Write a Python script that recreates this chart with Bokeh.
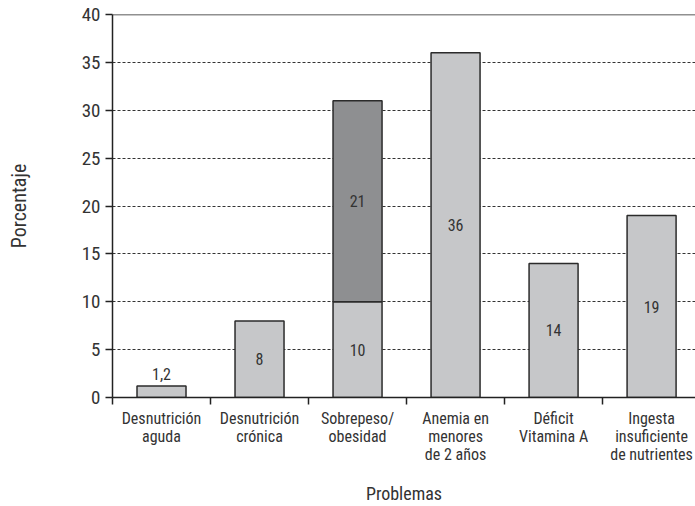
from bokeh.plotting import figure
from bokeh.models import Range1d, FixedTicker, Span, ColumnDataSource, LinearAxis
from bokeh.core.properties import value
from bokeh.embed import file_html
from bokeh.resources import INLINE

# ---- data ----
categories = ["Desnutrición\naguda", "Desnutrición\ncrónica", "Sobrepeso/\nobesidad",
              "Anemia en\nmenores\nde 2 años", "Déficit\nVitamina A",
              "Ingesta\ninsuficiente\nde nutrientes"]
base_values = [1.2, 8, 10, 36, 14, 19]
stack_values = [0, 0, 21, 0, 0, 0]
base_labels = ["1,2", "8", "10", "36", "14", "19"]
stack_labels = ["", "", "21", "", "", ""]
y_ticks = [0, 5, 10, 15, 20, 25, 30, 35, 40]

FONT = "Liberation Sans Narrow, Roboto Condensed, Arial Narrow, sans-serif"
LIGHT = "#c6c7c9"
DARK = "#8e8f91"
EDGE = "#2b2b2b"
TXT = "#333333"

n = len(categories)
centers = [i + 0.5 for i in range(n)]
split = [c.split("\n") for c in categories]
n_lines = max(len(s) for s in split)
lines = [[(s[k] if k < len(s) else "") for s in split] for k in range(n_lines)]

p = figure(width=695, height=506, x_range=Range1d(0, 5.948), y_range=Range1d(0, 40),
           output_backend="svg", toolbar_location=None,
           min_border_left=112, min_border_right=0, min_border_top=14, min_border_bottom=109)
p.outline_line_color = None
p.background_fill_color = "white"
p.border_fill_color = "white"

p.xgrid.visible = False
p.ygrid.ticker = FixedTicker(ticks=[t for t in y_ticks if 0 < t < 40])
p.ygrid.grid_line_color = "#333333"
p.ygrid.grid_line_dash = "3 2"
p.ygrid.grid_line_width = 1

# bars
src = ColumnDataSource(dict(x=centers, base=base_values))
p.vbar(x="x", bottom=0, top="base", width=0.5, source=src,
       fill_color=LIGHT, line_color=EDGE, line_width=1.5)
sx = [c for c, s in zip(centers, stack_values) if s > 0]
sb = [b for b, s in zip(base_values, stack_values) if s > 0]
st = [b + s for b, s in zip(base_values, stack_values) if s > 0]
p.vbar(x=sx, bottom=sb, top=st, width=0.5, fill_color=DARK, line_color=EDGE, line_width=1.5)

# top border line
p.add_layout(Span(location=40, dimension="width", line_color="#222222", line_width=1.5))

# value labels
in_x, in_y, in_t, out_x, out_y, out_t = [], [], [], [], [], []
for c, b, lab in zip(centers, base_values, base_labels):
    if b < 3:
        out_x.append(c); out_y.append(b); out_t.append(lab)
    else:
        in_x.append(c); in_y.append(b / 2); in_t.append(lab)
for c, b, s, lab in zip(centers, base_values, stack_values, stack_labels):
    if s > 0:
        in_x.append(c); in_y.append(b + s / 2); in_t.append(lab)
p.text(x=in_x, y=in_y, text=in_t, text_align="center", text_baseline="middle",
       text_font=value(FONT), text_font_size="16px", text_color=TXT)
p.text(x=out_x, y=out_y, text=out_t, text_align="center", text_baseline="bottom", y_offset=-6,
       text_font=value(FONT), text_font_size="16px", text_color=TXT)


def style_label_axis(ax, labels, first):
    ax.ticker = FixedTicker(ticks=centers, minor_ticks=[0, 1, 2, 3, 4, 5] if first else [])
    ax.major_label_overrides = {c: lab for c, lab in zip(centers, labels)}
    ax.major_tick_line_color = None
    ax.major_tick_out = 0
    ax.major_tick_in = 0
    ax.minor_tick_in = 0
    ax.minor_tick_out = 7 if first else 0
    ax.minor_tick_line_color = "#222222" if first else None
    ax.minor_tick_line_width = 1.5
    ax.axis_line_color = "#222222" if first else None
    ax.axis_line_width = 1.5
    ax.major_label_text_font = FONT
    ax.major_label_text_font_size = "16px"
    ax.major_label_text_color = TXT
    ax.major_label_standoff = 4 if first else -4


# x axes: one per label line
axes = [p.xaxis[0]]
for k in range(1, n_lines):
    ax = LinearAxis()
    p.add_layout(ax, "below")
    axes.append(ax)
for k, ax in enumerate(axes):
    style_label_axis(ax, lines[k], k == 0)

last = axes[-1]
last.axis_label = "Problemas"
last.axis_label_text_font = FONT
last.axis_label_text_font_size = "18px"
last.axis_label_text_font_style = "normal"
last.axis_label_text_color = TXT
last.axis_label_standoff = 16

# y axis
ya = p.yaxis[0]
ya.ticker = FixedTicker(ticks=y_ticks)
ya.major_tick_in = 0
ya.major_tick_out = 7
ya.minor_tick_line_color = None
ya.major_tick_line_color = "#222222"
ya.major_tick_line_width = 1.5
ya.axis_line_color = "#222222"
ya.axis_line_width = 1.5
ya.major_label_text_font = FONT
ya.major_label_text_font_size = "19px"
ya.major_label_text_color = TXT
ya.major_label_standoff = 5
ya.axis_label = "Porcentaje"
ya.axis_label_text_font = FONT
ya.axis_label_text_font_size = "20px"
ya.axis_label_text_font_style = "normal"
ya.axis_label_text_color = TXT
ya.axis_label_standoff = 48

open("out.html", "w").write(file_html(p, INLINE))
